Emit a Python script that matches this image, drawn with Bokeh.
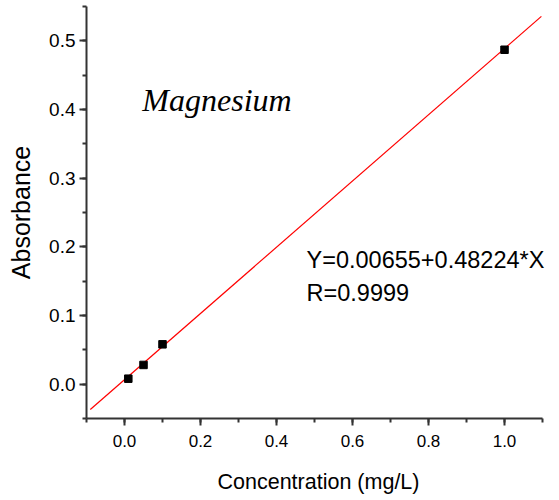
from bokeh.plotting import figure
from bokeh.models import Range1d, SingleIntervalTicker, Label, PrintfTickFormatter
from bokeh.embed import file_html
from bokeh.resources import INLINE

# data
conc = [0.01, 0.05, 0.10, 1.00]
absorb = [0.008, 0.028, 0.058, 0.487]
intercept = 0.00655
slope = 0.48224
fit_x = [-0.09, 1.097]
fit_y = [intercept + slope * v for v in fit_x]
eq_text = "Y=0.00655+0.48224*X"
r_text = "R=0.9999"
title_text = "Magnesium"

p = figure(width=551, height=496, output_backend="svg", toolbar_location=None,
           x_range=Range1d(-0.1, 1.121), y_range=Range1d(-0.05, 0.55),
           min_border_left=86, min_border_right=1, min_border_top=6, min_border_bottom=78)
p.outline_line_color = None
p.xgrid.visible = False
p.ygrid.visible = False
p.background_fill_color = "white"
p.border_fill_color = "white"

p.line(fit_x, fit_y, line_color="red", line_width=1.2)
p.scatter(conc, absorb, marker="square", size=7.5, fill_color="black", line_color="black")

font = "Liberation Sans"
for ax, interval in ((p.xaxis[0], 0.2), (p.yaxis[0], 0.1)):
    ax.ticker = SingleIntervalTicker(interval=interval, num_minor_ticks=2)
    ax.formatter = PrintfTickFormatter(format="%.1f")
    ax.axis_line_width = 2
    ax.axis_line_color = "#333333"
    ax.major_tick_line_color = "#333333"
    ax.minor_tick_line_color = "#333333"
    ax.major_tick_line_width = 2
    ax.minor_tick_line_width = 2
    ax.major_tick_in = 0
    ax.major_tick_out = 7
    ax.minor_tick_in = 0
    ax.minor_tick_out = 4
    ax.major_label_text_font = font
    ax.major_label_text_color = "black"
    ax.axis_label_text_font = font
    ax.axis_label_text_font_style = "normal"
    ax.axis_label_text_color = "black"

p.xaxis[0].bounds = (-0.1, 1.1)
p.xaxis[0].major_label_text_font_size = "17px"
p.xaxis[0].major_label_standoff = 9
p.xaxis[0].axis_label = "Concentration (mg/L)"
p.xaxis[0].axis_label_text_font_size = "21.5px"
p.xaxis[0].axis_label_standoff = 20

p.yaxis[0].major_label_text_font_size = "19px"
p.yaxis[0].major_label_standoff = 4
p.yaxis[0].axis_label = "Absorbance"
p.yaxis[0].axis_label_text_font_size = "25px"
p.yaxis[0].axis_label_standoff = 11

p.add_layout(Label(x=0.047, y=0.414, text=title_text, text_font="Liberation Serif",
                   text_font_style="italic", text_font_size="32px", text_color="black",
                   text_baseline="alphabetic"))
p.add_layout(Label(x=0.479, y=0.1805, text=eq_text, text_font=font,
                   text_font_size="23.5px", text_color="black", text_baseline="alphabetic"))
p.add_layout(Label(x=0.479, y=0.133, text=r_text, text_font=font,
                   text_font_size="23.5px", text_color="black", text_baseline="alphabetic"))

open("out.html", "w").write(file_html(p, INLINE))
